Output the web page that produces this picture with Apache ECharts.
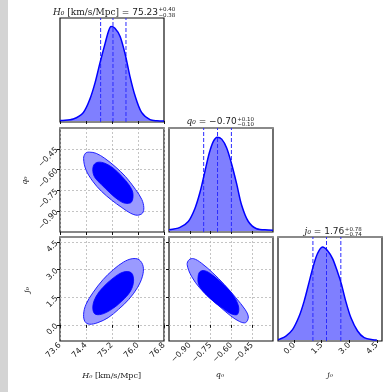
<!DOCTYPE html>
<html>
<head>
<meta charset="UTF-8">
<title>corner</title>
<style>
	html,body{margin:0;padding:0;background:#fff;}
	#main{width:388px;height:392px;}
</style>
</head>
<body>
<div id="main"></div>
<script src="https://cdn.jsdelivr.net/npm/echarts@6/dist/echarts.min.js"></script>
<script>
// axis ranges and tick labels
var h0Range = [73.6, 76.8];
var q0Range = [-1.05, -0.30];
var j0Range = [-0.88, 4.78];
var h0Ticks = [73.6, 74.4, 75.2, 76.0, 76.8];
var q0Ticks = [-0.90, -0.75, -0.60, -0.45];
var j0Ticks = [0, 1.5, 3.0, 4.5];

// 1D marginals: [value, height as share of panel]
var h0Hist = [[73.60,0.004],[73.65,0.005],[74.01,0.019],[74.32,0.083],[74.52,0.212],[74.68,0.372],[74.83,0.564],[74.99,0.756],[75.09,0.869],[75.17,0.917],[75.29,0.901],[75.45,0.821],[75.62,0.628],[75.75,0.436],[75.91,0.244],[76.11,0.083],[76.37,0.013],[76.58,0.002],[76.80,0.0]];
var q0Hist = [[-1.05,0.011],[-0.971,0.035],[-0.911,0.092],[-0.863,0.219],[-0.826,0.378],[-0.790,0.584],[-0.759,0.759],[-0.730,0.870],[-0.702,0.911],[-0.670,0.892],[-0.634,0.806],[-0.598,0.648],[-0.562,0.457],[-0.526,0.250],[-0.478,0.092],[-0.418,0.022],[-0.334,0.010],[-0.30,0.008]];
var j0Hist = [[-0.88,0.004],[-0.82,0.006],[-0.45,0.038],[-0.09,0.10],[0.27,0.23],[0.54,0.375],[0.82,0.567],[1.03,0.71],[1.27,0.84],[1.54,0.904],[1.81,0.87],[2.09,0.79],[2.36,0.66],[2.56,0.55],[2.81,0.375],[3.09,0.215],[3.45,0.087],[3.81,0.022],[4.27,0.002],[4.5,0]];

// 16/50/84 percentiles (dashed lines)
var h0Lines = [74.85, 75.23, 75.63];
var q0Lines = [-0.80, -0.70, -0.60];
var j0Lines = [1.02, 1.76, 2.54];

// 2D contours (outer 95%, inner 68%)
var h0q0Outer = [[74.326,-0.519],[74.389,-0.481],[74.505,-0.474],[74.716,-0.483],[74.979,-0.519],[75.295,-0.578],[75.611,-0.649],[75.926,-0.744],[76.116,-0.815],[76.179,-0.874],[76.137,-0.914],[75.979,-0.929],[75.768,-0.914],[75.505,-0.874],[75.189,-0.820],[74.874,-0.756],[74.611,-0.685],[74.40,-0.602]];
var h0q0Inner = [[74.642,-0.566],[74.768,-0.547],[74.979,-0.554],[75.242,-0.590],[75.505,-0.649],[75.716,-0.708],[75.842,-0.768],[75.80,-0.834],[75.611,-0.843],[75.40,-0.820],[75.137,-0.768],[74.874,-0.708],[74.684,-0.661],[74.611,-0.614]];
var h0j0Outer = [[74.326,0.572],[74.40,1.113],[74.611,1.743],[74.926,2.464],[75.242,3.005],[75.558,3.419],[75.821,3.599],[76.032,3.545],[76.158,3.185],[76.137,2.644],[75.979,2.014],[75.716,1.383],[75.40,0.842],[75.084,0.392],[74.768,0.122],[74.505,0.032],[74.368,0.176]];
var h0j0Inner = [[74.611,1.023],[74.716,1.563],[74.926,2.050],[75.242,2.554],[75.558,2.878],[75.80,2.824],[75.863,2.374],[75.768,1.833],[75.505,1.293],[75.189,0.842],[74.874,0.572],[74.663,0.608]];
var q0j0Outer = [[-0.919,3.275],[-0.905,3.545],[-0.872,3.599],[-0.817,3.365],[-0.734,2.824],[-0.651,2.194],[-0.568,1.473],[-0.502,0.842],[-0.478,0.428],[-0.497,0.122],[-0.540,0.176],[-0.604,0.482],[-0.675,0.932],[-0.758,1.473],[-0.829,2.014],[-0.888,2.644]];
var q0j0Inner = [[-0.841,2.554],[-0.829,2.878],[-0.793,2.950],[-0.734,2.698],[-0.663,2.230],[-0.592,1.653],[-0.549,1.023],[-0.556,0.572],[-0.604,0.608],[-0.675,0.968],[-0.746,1.383],[-0.805,1.833],[-0.836,2.194]];

var myChart = echarts.init(document.getElementById('main'));

var cols = [60, 169, 278];
var rows = [18, 128, 237];
var S = 104;
var lblFont = {fontFamily: 'DejaVu Sans', fontSize: 8, color: '#222'};

function fmt1(v){ return (+v).toFixed(1).replace('-', '\u2212'); }
function fmt2(v){ return (+v).toFixed(2).replace('-', '\u2212'); }

function grid(c, r){
	return {left: cols[c], top: rows[r], width: S, height: S, show: true, borderColor: '#111', borderWidth: 1.2, backgroundColor: 'transparent'};
}

function valAxis(gi, range, ticks, fmt, labels, split){
	return {
		type: 'value', gridIndex: gi, min: range[0], max: range[1],
		axisLine: {show: false},
		axisTick: {show: true, inside: false, length: 3, customValues: ticks, lineStyle: {color: '#111'}},
		axisLabel: Object.assign({show: labels, rotate: 45, margin: 3, customValues: ticks, formatter: fmt}, lblFont),
		splitLine: {show: split, lineStyle: {color: '#b5b5b5', type: [2, 2], width: 0.8}}
	};
}

// grey top edge seen on the lower panels
function topEdge(gi){
	return {type: 'value', gridIndex: gi, position: 'top', min: 0, max: 1,
		axisLine: {show: true, onZero: false, lineStyle: {color: '#8a8a8a', width: 1.8}},
		axisTick: {show: false}, axisLabel: {show: false}, splitLine: {show: false}};
}

function histY(gi){
	return {type: 'value', gridIndex: gi, min: -0.01, max: 1, show: false};
}

function histSeries(i, pts){
	return {
		type: 'line', xAxisIndex: i, yAxisIndex: i, data: pts, smooth: 0.3,
		symbol: 'none', lineStyle: {color: '#0000ff', width: 1.5},
		areaStyle: {color: '#7f7fff', opacity: 1}
	};
}

function quantileSeries(i, lines){
	return {
		type: 'custom', xAxisIndex: i, yAxisIndex: i, z: 3,
		data: lines.map(function(v){ return [v, 0]; }),
		renderItem: function(params, api){
			var a = api.coord([api.value(0), -0.01]);
			var b = api.coord([api.value(0), 1]);
			return {type: 'line', shape: {x1: a[0], y1: a[1], x2: b[0], y2: b[1]},
				style: {stroke: '#2b2bff', lineWidth: 1, lineDash: [4, 2]}};
		}
	};
}

function contourSeries(i, outer, inner){
	return {
		type: 'custom', xAxisIndex: i, yAxisIndex: i, clip: true,
		data: [outer[0]],
		renderItem: function(params, api){
			var px = function(p){ return api.coord(p); };
			return {type: 'group', children: [
				{type: 'polygon', shape: {points: outer.map(px), smooth: 0.35}, style: {fill: '#9a9aff', stroke: '#2020ff', lineWidth: 1}},
				{type: 'polygon', shape: {points: inner.map(px), smooth: 0.35}, style: {fill: '#0000ff', stroke: '#0000ff', lineWidth: 0.8}}
			]};
		}
	};
}

function txt(x, y, text, size, align, rot){
	return {
		type: 'text', x: x, y: y, rotation: rot || 0,
		style: {
			text: text, fontSize: size, fontFamily: 'DejaVu Sans', fill: '#222',
			align: align || 'center', verticalAlign: 'middle',
			rich: {
				i: {fontFamily: 'DejaVu Serif', fontStyle: 'italic', fontSize: size, fill: '#222'},
				r: {fontFamily: 'DejaVu Serif', fontSize: size, fill: '#222'}
			}
		}
	};
}

var option = {
	animation: false,
	grid: [grid(0,0), grid(0,1), grid(1,1), grid(0,2), grid(1,2), grid(2,2)],
	xAxis: [
		valAxis(0, h0Range, h0Ticks, fmt1, false, false),
		valAxis(1, h0Range, h0Ticks, fmt1, false, true),
		valAxis(2, q0Range, q0Ticks, fmt2, false, false),
		valAxis(3, h0Range, h0Ticks, fmt1, true, true),
		valAxis(4, q0Range, q0Ticks, fmt2, true, true),
		valAxis(5, j0Range, j0Ticks, fmt1, true, false),
		topEdge(1), topEdge(2), topEdge(3), topEdge(4), topEdge(5)
	],
	yAxis: [
		histY(0),
		valAxis(1, q0Range, q0Ticks, fmt2, true, true),
		histY(2),
		valAxis(3, j0Range, j0Ticks, fmt1, true, true),
		valAxis(4, j0Range, j0Ticks, fmt1, false, true),
		histY(5)
	],
	series: [
		histSeries(0, h0Hist),
		quantileSeries(0, h0Lines),
		contourSeries(1, h0q0Outer, h0q0Inner),
		histSeries(2, q0Hist),
		quantileSeries(2, q0Lines),
		contourSeries(3, h0j0Outer, h0j0Inner),
		contourSeries(4, q0j0Outer, q0j0Inner),
		histSeries(5, j0Hist),
		quantileSeries(5, j0Lines)
	],
	graphic: [
		{type: 'rect', shape: {x: 0, y: 0, width: 8, height: 392}, style: {fill: '#d4d4d4'}},
		// titles
		txt(158, 12.7, '{i|H\u2080} {r|[km/s/Mpc]} = 75.23', 9, 'right'),
		txt(158.5, 10, '+0.40', 5.5, 'left'),
		txt(158.5, 15.7, '\u22120.38', 5.5, 'left'),
		txt(236.7, 121.7, '{i|q\u2080} = \u22120.70', 9, 'right'),
		txt(237.2, 119.3, '+0.10', 5.5, 'left'),
		txt(237.2, 124.5, '\u22120.10', 5.5, 'left'),
		txt(344.3, 231.7, '{i|j\u2080} = 1.76', 9, 'right'),
		txt(344.8, 229.3, '+0.78', 5.5, 'left'),
		txt(344.8, 234.5, '\u22120.74', 5.5, 'left'),
		// axis names
		txt(111.7, 376, '{i|H\u2080} {r|[km/s/Mpc]}', 8),
		txt(220, 375, '{i|q\u2080}', 8),
		txt(330, 375, '{i|j\u2080}', 8),
		txt(25, 180.7, '{i|q\u2080}', 8, 'center', Math.PI / 2),
		txt(26.7, 290, '{i|j\u2080}', 8, 'center', Math.PI / 2)
	]
};

myChart.setOption(option);
</script>
</body>
</html>
